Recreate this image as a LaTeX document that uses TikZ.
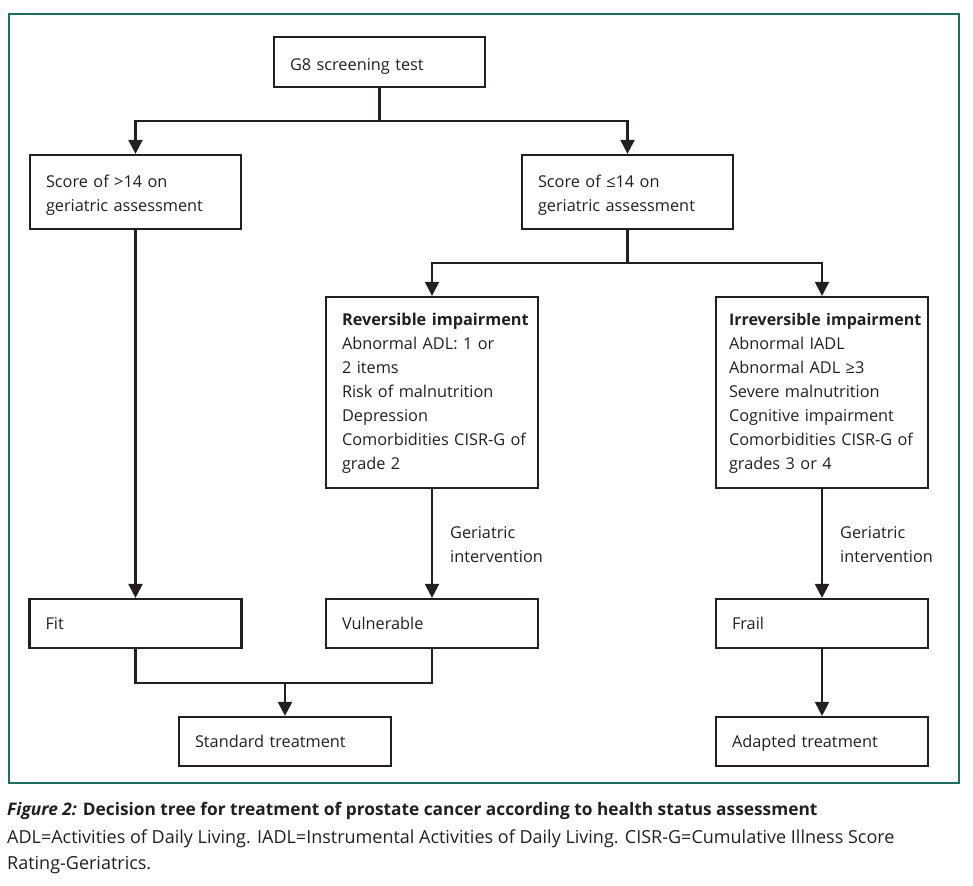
\documentclass[tikz,border=0pt]{standalone}
\usepackage{fontspec}
\setmainfont{Open Sans}
\usetikzlibrary{arrows.meta}
\definecolor{framegreen}{HTML}{1E6E5C}
\definecolor{ink}{HTML}{231F20}
\newcommand{\lines}[2][1.2pt]{\raisebox{-#1}[\height][\depth]{\begin{tabular}{@{}l@{}}#2\end{tabular}}}
\begin{document}
\begin{tikzpicture}[x=1pt,y=-1pt,
  box/.style={draw=ink, line width=2.2pt, text=ink, align=left, inner ysep=0pt,
    font=\fontsize{16.3}{24}\selectfont, anchor=center},
  wbox/.style={box, inner xsep=16pt, text width=#1-32pt, minimum width=#1},
  nbox/.style={box, inner xsep=13pt, text width=#1-26pt, minimum width=#1},
  conn/.style={draw=ink, line width=2.2pt},
  arr/.style={conn, -{Triangle[width=14pt,length=14pt]}},
  lbl/.style={text=ink, align=left, inner sep=0pt, anchor=west, font=\fontsize{16.3}{24}\selectfont}]
\useasboundingbox (0,0) rectangle (973,885);
\draw[framegreen, line width=1.2pt] (9,14) rectangle (959,783);

\node[wbox=211pt, minimum height=50pt] (g8) at (379.5,62) {\lines[4pt]{G8 screening test}};
\node[wbox=211pt, minimum height=74pt] (s1) at (135.5,192) {\lines[3pt]{Score of >14 on\\geriatric assessment}};
\node[wbox=211pt, minimum height=74pt] (s2) at (627.5,192) {\lines[3pt]{Score of ≤14 on\\geriatric assessment}};
\node[wbox=212pt, minimum height=191pt] (rev) at (432,392.5) {\lines[0.5pt]{\textbf{Reversible impairment}\\Abnormal ADL: 1 or\\2 items\\Risk of malnutrition\\Depression\\Comorbidities CISR-G of\\grade 2}};
\node[nbox=212pt, minimum height=191pt] (irr) at (822,392.5) {\lines[0.5pt]{{\fontsize{16}{24}\selectfont\textbf{Irreversible impairment}}\\Abnormal IADL\\Abnormal ADL ≥3\\Severe malnutrition\\Cognitive impairment\\Comorbidities CISR-G of\\grades 3 or 4}};
\node[wbox=212pt, minimum height=49pt] (fit) at (135.5,623.5) {\lines{Fit}};
\node[wbox=212pt, minimum height=49pt] (vul) at (432,623.5) {\lines{Vulnerable}};
\node[wbox=212pt, minimum height=49pt] (frail) at (822,623.5) {\lines{Frail}};
\node[wbox=212pt, minimum height=49pt] (std) at (285,741.5) {\lines{Standard treatment}};
\node[wbox=212pt, minimum height=49pt] (adp) at (822,741.5) {\lines{Adapted treatment}};

\node[lbl] (gi1) at (450,546) {\lines[0pt]{Geriatric\\intervention}};
\node[lbl] (gi2) at (840,546) {\lines[0pt]{Geriatric\\intervention}};

\coordinate (j1) at (g8.south |- 0,121);
\draw[conn] (g8.south) -- (j1);
\draw[arr] (j1) -| (s1.north);
\draw[arr] (j1) -| (s2.north);
\coordinate (j2) at (s2.south |- 0,263);
\draw[conn] (s2.south) -- (j2);
\draw[arr] (j2) -| (rev.north);
\draw[arr] (j2) -| (irr.north);
\draw[arr] (s1.south) -- (fit.north);
\draw[arr] (rev.south) -- (vul.north);
\draw[arr] (irr.south) -- (frail.north);
\coordinate (j3) at (std.north |- 0,683);
\draw[conn] (fit.south) |- (j3);
\draw[conn] (vul.south) |- (j3);
\draw[arr] (j3) -- (std.north);
\draw[arr] (frail.south) -- (adp.north);

\node[anchor=base west, inner sep=0pt, text=ink, font=\fontsize{17.3}{22}\selectfont\bfseries] (cap1) at (7,815) {\textit{Figure 2:} Decision tree for treatment of prostate cancer according to health status assessment};
\node[anchor=base west, inner sep=0pt, text=ink, font=\fontsize{18}{26}\selectfont] (cap2) at (7,843) {ADL=Activities of Daily Living. IADL=Instrumental Activities of Daily Living. CISR-G=Cumulative Illness Score};
\node[anchor=base west, inner sep=0pt, text=ink, font=\fontsize{18}{26}\selectfont] (cap3) at (7,869) {Rating-Geriatrics.};
\end{tikzpicture}
\end{document}
